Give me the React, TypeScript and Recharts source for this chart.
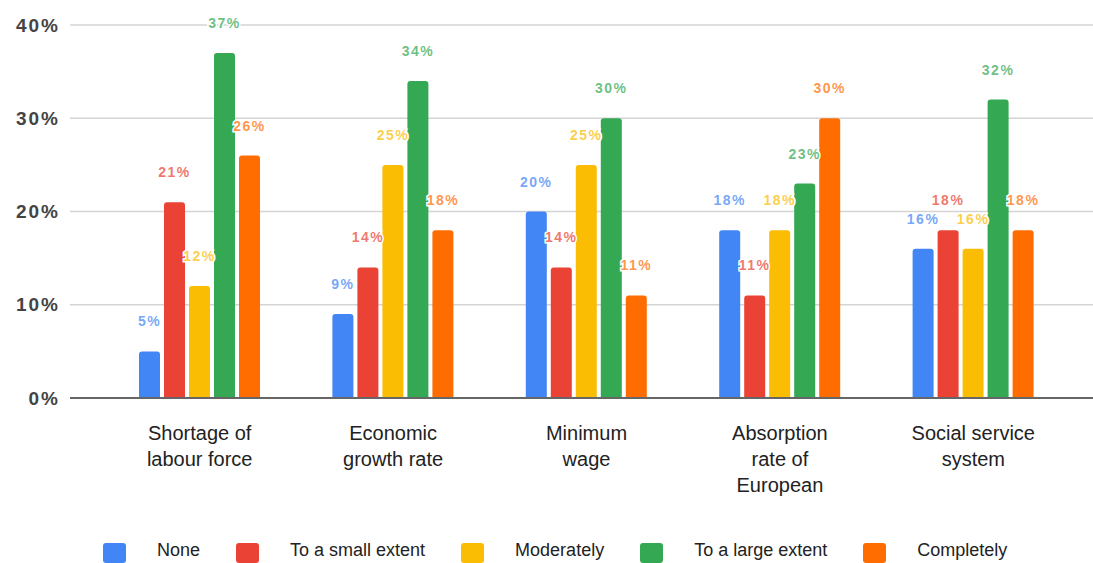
import React from 'react';
import { BarChart, Bar, XAxis, YAxis, CartesianGrid, Legend, LabelList } from 'recharts';

const categories = [
  'Shortage of\nlabour force',
  'Economic\ngrowth rate',
  'Minimum\nwage',
  'Absorption\nrate of\nEuropean',
  'Social service\nsystem',
];
const noneValues = [5, 9, 20, 18, 16];
const smallValues = [21, 14, 14, 11, 18];
const moderateValues = [12, 25, 25, 18, 16];
const largeValues = [37, 34, 30, 23, 32];
const completeValues = [26, 18, 11, 30, 18];
const yTicks = [0, 10, 20, 30, 40];

const series = [
  { key: 'none', name: 'None', color: '#4285F4', values: noneValues },
  { key: 'small', name: 'To a small extent', color: '#EA4335', values: smallValues },
  { key: 'moderate', name: 'Moderately', color: '#FBBC04', values: moderateValues },
  { key: 'large', name: 'To a large extent', color: '#34A853', values: largeValues },
  { key: 'complete', name: 'Completely', color: '#FF6D01', values: completeValues },
];

const data = categories.map((c, i) => {
  const row: Record<string, any> = { category: c };
  series.forEach((s) => {
    row[s.key] = s.values[i];
  });
  return row;
});

const FONT = '"Liberation Sans", Arial, sans-serif';

const CategoryTick = (props: any) => {
  const { x, y, payload } = props;
  const lines = String(payload.value).split('\n');
  return (
    <text x={x} y={y} textAnchor="middle" fill="#222" fontFamily={FONT} fontSize={20}>
      {lines.map((l, i) => (
        <tspan key={i} x={x} dy={i === 0 ? 34 : 26}>
          {l}
        </tspan>
      ))}
    </text>
  );
};

const makeLabel = (color: string) => (props: any) => {
  const { x, y, width, value } = props;
  return (
    <text
      x={Number(x) + Number(width) / 2}
      y={Number(y) - 25}
      textAnchor="middle"
      fill={color}
      fillOpacity={0.72}
      stroke="#fff"
      strokeWidth={3}
      paintOrder="stroke"
      fontFamily={FONT}
      fontWeight="bold"
      fontSize={14}
      letterSpacing={1.5}
    >
      {`${value}%`}
    </text>
  );
};

const LegendContent = () => (
  <div
    style={{
      display: 'flex',
      alignItems: 'center',
      height: 30,
      paddingLeft: 103,
      fontFamily: FONT,
      fontSize: 18,
      color: '#222',
    }}
  >
    {series.map((s) => (
      <div key={s.key} style={{ display: 'flex', alignItems: 'center', marginRight: 36 }}>
        <div
          style={{
            width: 23,
            height: 20,
            background: s.color,
            borderRadius: 3,
            marginRight: 31,
            marginTop: 6,
          }}
        />
        <span>{s.name}</span>
      </div>
    ))}
  </div>
);

export default function App() {
  return (
    <div style={{ position: 'absolute', left: 0, top: 0, width: 1093, height: 563, background: '#fff', overflow: 'hidden' }}>
      <BarChart
        width={1093}
        height={563}
        data={data}
        margin={{ top: 25, right: 0, left: 0, bottom: 0 }}
        barSize={21}
        barGap={4}
      >
        <CartesianGrid vertical={false} stroke="#d4d4d4" strokeWidth={1.5} />
        <XAxis
          dataKey="category"
          height={135}
          interval={0}
          tickLine={false}
          axisLine={{ stroke: '#666', strokeWidth: 2 }}
          tick={<CategoryTick />}
          padding={{ left: 33, right: 23 }}
        />
        <YAxis
          width={70}
          domain={[0, 40]}
          ticks={yTicks}
          axisLine={false}
          tickLine={false}
          tickMargin={4}
          tickFormatter={(v: number) => `${v}%`}
          tick={{ fill: '#444', fontFamily: FONT, fontSize: 19, fontWeight: 'bold', letterSpacing: 2 }}
        />
        <Legend verticalAlign="bottom" height={30} wrapperStyle={{ left: 0, bottom: -2, width: 1093 }} content={<LegendContent />} />
        {series.map((s) => (
          <Bar key={s.key} dataKey={s.key} name={s.name} fill={s.color} radius={[3, 3, 0, 0]} isAnimationActive={false}>
            <LabelList dataKey={s.key} content={makeLabel(s.color)} />
          </Bar>
        ))}
      </BarChart>
    </div>
  );
}
